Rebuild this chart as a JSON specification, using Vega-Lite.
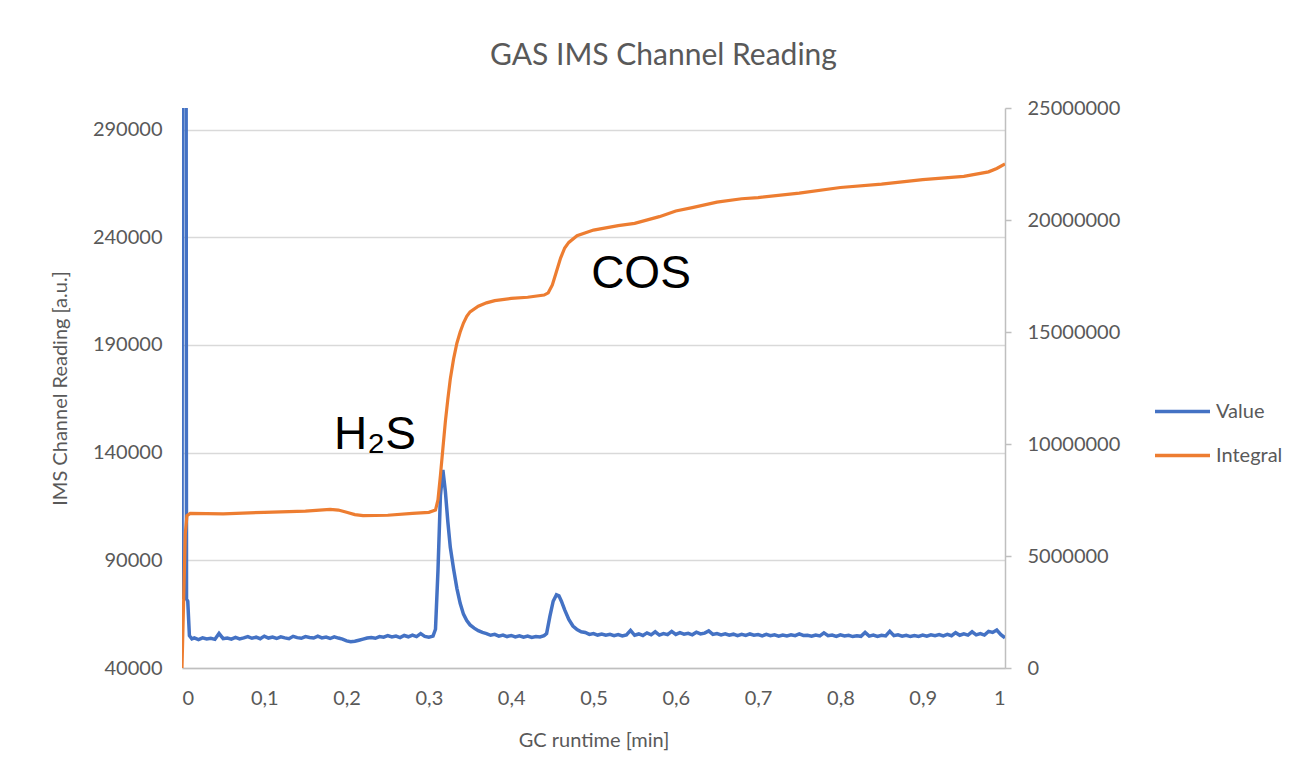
{
  "$schema": "https://vega.github.io/schema/vega-lite/v6.json",
  "autosize": "none",
  "width": 823,
  "height": 560,
  "padding": {"left": 182, "top": 108, "right": 294, "bottom": 114},
  "background": "white",
  "title": {
    "text": "GAS IMS Channel Reading",
    "font": "Lato",
    "fontSize": 30,
    "fontWeight": "normal",
    "color": "#595959",
    "anchor": "middle",
    "dx": 70,
    "offset": 27
  },
  "config": {
    "view": {"stroke": null},
    "axis": {
      "labelFont": "Lato",
      "labelFontSize": 20,
      "labelColor": "#595959",
      "titleFont": "Lato",
      "titleFontSize": 20,
      "titleFontWeight": "normal",
      "titleColor": "#595959"
    },
    "legend": {
      "labelFont": "Lato",
      "labelFontSize": 20,
      "labelColor": "#595959"
    }
  },
  "datasets": {
    "value": [
      {"t": 0.000, "v": 72000}, {"t": 0.0005, "v": 320000}, {"t": 0.005, "v": 320000}, {"t": 0.0055, "v": 72000}, {"t": 0.007, "v": 71000},
      {"t": 0.009, "v": 55000}, {"t": 0.012, "v": 53500}, {"t": 0.015, "v": 54000}, {"t": 0.02, "v": 53200},
      {"t": 0.025, "v": 54000}, {"t": 0.03, "v": 53500}, {"t": 0.035, "v": 53800}, {"t": 0.04, "v": 53300},
      {"t": 0.045, "v": 56000}, {"t": 0.05, "v": 53600}, {"t": 0.055, "v": 53900}, {"t": 0.06, "v": 53400},
      {"t": 0.065, "v": 54200}, {"t": 0.07, "v": 53500}, {"t": 0.075, "v": 54000}, {"t": 0.08, "v": 54600},
      {"t": 0.085, "v": 53800}, {"t": 0.09, "v": 54300}, {"t": 0.095, "v": 53600}, {"t": 0.10, "v": 54800},
      {"t": 0.105, "v": 53900}, {"t": 0.11, "v": 54400}, {"t": 0.115, "v": 53700}, {"t": 0.12, "v": 54500},
      {"t": 0.125, "v": 54000}, {"t": 0.13, "v": 53600}, {"t": 0.135, "v": 54700}, {"t": 0.14, "v": 54100},
      {"t": 0.145, "v": 53800}, {"t": 0.15, "v": 54600}, {"t": 0.155, "v": 54200}, {"t": 0.16, "v": 53900},
      {"t": 0.165, "v": 54800}, {"t": 0.17, "v": 54000}, {"t": 0.175, "v": 54400}, {"t": 0.18, "v": 53700},
      {"t": 0.185, "v": 54500}, {"t": 0.19, "v": 53900}, {"t": 0.195, "v": 53400}, {"t": 0.20, "v": 52600},
      {"t": 0.205, "v": 52200}, {"t": 0.21, "v": 52400}, {"t": 0.215, "v": 52900}, {"t": 0.22, "v": 53400},
      {"t": 0.225, "v": 53900}, {"t": 0.23, "v": 54200}, {"t": 0.235, "v": 53800}, {"t": 0.24, "v": 54600},
      {"t": 0.245, "v": 54300}, {"t": 0.25, "v": 55000}, {"t": 0.255, "v": 54400}, {"t": 0.26, "v": 54800},
      {"t": 0.265, "v": 54100}, {"t": 0.27, "v": 55100}, {"t": 0.275, "v": 54500}, {"t": 0.28, "v": 55300},
      {"t": 0.285, "v": 54600}, {"t": 0.29, "v": 56000}, {"t": 0.295, "v": 54700}, {"t": 0.30, "v": 54300},
      {"t": 0.305, "v": 54800}, {"t": 0.308, "v": 58000}, {"t": 0.311, "v": 85000}, {"t": 0.314, "v": 120000},
      {"t": 0.317, "v": 132000}, {"t": 0.320, "v": 122000}, {"t": 0.323, "v": 108000}, {"t": 0.326, "v": 96000},
      {"t": 0.330, "v": 86000}, {"t": 0.334, "v": 77000}, {"t": 0.338, "v": 70000}, {"t": 0.342, "v": 65000},
      {"t": 0.346, "v": 62000}, {"t": 0.350, "v": 60000}, {"t": 0.355, "v": 58500}, {"t": 0.36, "v": 57300},
      {"t": 0.365, "v": 56500}, {"t": 0.37, "v": 56000}, {"t": 0.375, "v": 55200}, {"t": 0.38, "v": 55600},
      {"t": 0.385, "v": 54800}, {"t": 0.39, "v": 55300}, {"t": 0.395, "v": 54600}, {"t": 0.40, "v": 55100},
      {"t": 0.405, "v": 54400}, {"t": 0.41, "v": 54900}, {"t": 0.415, "v": 54300}, {"t": 0.42, "v": 54800},
      {"t": 0.425, "v": 54200}, {"t": 0.43, "v": 54600}, {"t": 0.435, "v": 54400}, {"t": 0.44, "v": 55000},
      {"t": 0.443, "v": 56000}, {"t": 0.447, "v": 64000}, {"t": 0.451, "v": 71000}, {"t": 0.455, "v": 74000},
      {"t": 0.458, "v": 73500}, {"t": 0.461, "v": 71000}, {"t": 0.465, "v": 67000}, {"t": 0.47, "v": 62500},
      {"t": 0.475, "v": 59500}, {"t": 0.48, "v": 57800}, {"t": 0.485, "v": 56800}, {"t": 0.49, "v": 56500},
      {"t": 0.495, "v": 55600}, {"t": 0.50, "v": 56000}, {"t": 0.505, "v": 55300}, {"t": 0.51, "v": 55800},
      {"t": 0.515, "v": 55200}, {"t": 0.52, "v": 55600}, {"t": 0.525, "v": 55000}, {"t": 0.53, "v": 55500},
      {"t": 0.535, "v": 54900}, {"t": 0.54, "v": 55400}, {"t": 0.545, "v": 57500}, {"t": 0.55, "v": 55200},
      {"t": 0.555, "v": 55800}, {"t": 0.56, "v": 55100}, {"t": 0.565, "v": 56300}, {"t": 0.57, "v": 55400},
      {"t": 0.575, "v": 56800}, {"t": 0.58, "v": 55300}, {"t": 0.585, "v": 56000}, {"t": 0.59, "v": 55500},
      {"t": 0.595, "v": 57000}, {"t": 0.60, "v": 55600}, {"t": 0.605, "v": 56400}, {"t": 0.61, "v": 55700},
      {"t": 0.615, "v": 56100}, {"t": 0.62, "v": 55400}, {"t": 0.625, "v": 56600}, {"t": 0.63, "v": 55800},
      {"t": 0.635, "v": 56200}, {"t": 0.64, "v": 57200}, {"t": 0.645, "v": 55600}, {"t": 0.65, "v": 56000},
      {"t": 0.655, "v": 55400}, {"t": 0.66, "v": 55900}, {"t": 0.665, "v": 55200}, {"t": 0.67, "v": 55700},
      {"t": 0.675, "v": 55000}, {"t": 0.68, "v": 55600}, {"t": 0.685, "v": 55100}, {"t": 0.69, "v": 55800},
      {"t": 0.695, "v": 55200}, {"t": 0.70, "v": 55500}, {"t": 0.705, "v": 54900}, {"t": 0.71, "v": 55600},
      {"t": 0.715, "v": 55000}, {"t": 0.72, "v": 55400}, {"t": 0.725, "v": 54800}, {"t": 0.73, "v": 55300},
      {"t": 0.735, "v": 54900}, {"t": 0.74, "v": 55400}, {"t": 0.745, "v": 55000}, {"t": 0.75, "v": 55800},
      {"t": 0.755, "v": 55100}, {"t": 0.76, "v": 55200}, {"t": 0.765, "v": 54800}, {"t": 0.77, "v": 55300},
      {"t": 0.775, "v": 54900}, {"t": 0.78, "v": 56300}, {"t": 0.785, "v": 55000}, {"t": 0.79, "v": 55300},
      {"t": 0.795, "v": 54700}, {"t": 0.80, "v": 55400}, {"t": 0.805, "v": 54900}, {"t": 0.81, "v": 55200},
      {"t": 0.815, "v": 54600}, {"t": 0.82, "v": 55000}, {"t": 0.825, "v": 54700}, {"t": 0.83, "v": 56500},
      {"t": 0.835, "v": 54800}, {"t": 0.84, "v": 55300}, {"t": 0.845, "v": 54700}, {"t": 0.85, "v": 55200},
      {"t": 0.855, "v": 54900}, {"t": 0.86, "v": 57000}, {"t": 0.865, "v": 55000}, {"t": 0.87, "v": 55400},
      {"t": 0.875, "v": 54800}, {"t": 0.88, "v": 55200}, {"t": 0.885, "v": 54600}, {"t": 0.89, "v": 55100},
      {"t": 0.895, "v": 54700}, {"t": 0.90, "v": 55300}, {"t": 0.905, "v": 54800}, {"t": 0.91, "v": 55400},
      {"t": 0.915, "v": 55000}, {"t": 0.92, "v": 55500}, {"t": 0.925, "v": 54900}, {"t": 0.93, "v": 55600},
      {"t": 0.935, "v": 55000}, {"t": 0.94, "v": 56400}, {"t": 0.945, "v": 55200}, {"t": 0.95, "v": 55900},
      {"t": 0.955, "v": 55300}, {"t": 0.96, "v": 56800}, {"t": 0.965, "v": 55400}, {"t": 0.97, "v": 56000},
      {"t": 0.975, "v": 55300}, {"t": 0.98, "v": 57000}, {"t": 0.985, "v": 56500}, {"t": 0.99, "v": 57600},
      {"t": 0.995, "v": 55500}, {"t": 1.00, "v": 54000}
    ],
    "integral": [
      {"t": 0.000, "v": 0}, {"t": 0.002, "v": 3000000}, {"t": 0.004, "v": 6000000}, {"t": 0.006, "v": 6800000},
      {"t": 0.01, "v": 6900000}, {"t": 0.05, "v": 6880000}, {"t": 0.1, "v": 6950000}, {"t": 0.15, "v": 7000000},
      {"t": 0.18, "v": 7080000}, {"t": 0.19, "v": 7050000}, {"t": 0.2, "v": 6950000}, {"t": 0.21, "v": 6850000},
      {"t": 0.22, "v": 6800000}, {"t": 0.25, "v": 6820000}, {"t": 0.28, "v": 6900000}, {"t": 0.3, "v": 6950000},
      {"t": 0.308, "v": 7050000}, {"t": 0.311, "v": 7500000}, {"t": 0.314, "v": 8600000}, {"t": 0.317, "v": 9800000},
      {"t": 0.32, "v": 11000000}, {"t": 0.323, "v": 12000000}, {"t": 0.326, "v": 12900000}, {"t": 0.33, "v": 13800000},
      {"t": 0.334, "v": 14500000}, {"t": 0.338, "v": 15000000}, {"t": 0.342, "v": 15400000}, {"t": 0.346, "v": 15700000},
      {"t": 0.35, "v": 15900000}, {"t": 0.36, "v": 16150000}, {"t": 0.37, "v": 16300000}, {"t": 0.38, "v": 16400000},
      {"t": 0.4, "v": 16500000}, {"t": 0.42, "v": 16550000}, {"t": 0.44, "v": 16650000}, {"t": 0.445, "v": 16750000},
      {"t": 0.45, "v": 17100000}, {"t": 0.455, "v": 17700000}, {"t": 0.46, "v": 18300000}, {"t": 0.465, "v": 18750000},
      {"t": 0.47, "v": 19000000}, {"t": 0.48, "v": 19300000}, {"t": 0.5, "v": 19550000}, {"t": 0.53, "v": 19750000},
      {"t": 0.55, "v": 19850000}, {"t": 0.58, "v": 20150000}, {"t": 0.6, "v": 20400000}, {"t": 0.62, "v": 20550000},
      {"t": 0.65, "v": 20800000}, {"t": 0.68, "v": 20950000}, {"t": 0.7, "v": 21000000}, {"t": 0.75, "v": 21200000},
      {"t": 0.8, "v": 21450000}, {"t": 0.85, "v": 21600000}, {"t": 0.9, "v": 21800000}, {"t": 0.95, "v": 21950000},
      {"t": 0.98, "v": 22150000}, {"t": 0.99, "v": 22300000}, {"t": 1.0, "v": 22500000}
    ],
    "labels": [
      {"t": 0.2345, "v": 141500, "label": "H₂S"},
      {"t": 0.5577, "v": 216400, "label": "COS"}
    ]
  },
  "encoding": {
    "x": {
      "field": "t",
      "type": "quantitative",
      "scale": {"domain": [0, 1], "nice": false},
      "axis": {
        "title": "GC runtime [min]",
        "values": [0, 0.1, 0.2, 0.3, 0.4, 0.5, 0.6, 0.7, 0.8, 0.9, 1],
        "labelExpr": "replace(format(datum.value, '.1~f'), '.', ',')",
        "grid": false,
        "ticks": false,
        "domainColor": "#bfbfbf",
        "domainWidth": 1.5,
        "labelPadding": 20,
        "titlePadding": 22
      }
    }
  },
  "layer": [
    {
      "encoding": {
        "y": {
          "field": "v",
          "type": "quantitative",
          "scale": {"domain": [40000, 300000], "nice": false, "zero": false},
          "axis": {
            "title": "IMS Channel Reading [a.u.]",
            "values": [40000, 90000, 140000, 190000, 240000, 290000],
            "format": "d",
            "grid": true,
            "gridColor": "#d9d9d9",
            "gridWidth": 1.5,
            "domain": false,
            "ticks": false,
            "labelPadding": 20,
            "titlePadding": 22
          }
        }
      },
      "layer": [
        {
          "data": {"name": "value"},
          "mark": {"type": "line", "strokeWidth": 3.5, "clip": true},
          "encoding": {
            "color": {
              "datum": "Value",
              "type": "nominal",
              "scale": {"domain": ["Value", "Integral"], "range": ["#4472C4", "#ED7D31"]},
              "legend": {
                "title": null,
                "orient": "none",
                "legendX": 971,
                "legendY": 274,
                "symbolType": "stroke",
                "symbolSize": 3025,
                "symbolStrokeWidth": 3.5,
                "labelOffset": 4,
                "rowPadding": 4
              }
            }
          }
        },
        {
          "data": {"name": "labels"},
          "mark": {
            "type": "text",
            "font": "Liberation Sans",
            "fontSize": 46,
            "color": "black",
            "align": "center",
            "baseline": "alphabetic"
          },
          "encoding": {
            "text": {"field": "label", "type": "nominal"}
          }
        }
      ]
    },
    {
      "data": {"name": "integral"},
      "mark": {"type": "line", "strokeWidth": 3.2, "clip": true},
      "encoding": {
        "y": {
          "field": "v",
          "type": "quantitative",
          "scale": {"domain": [0, 25000000], "nice": false},
          "axis": {
            "orient": "right",
            "title": null,
            "values": [0, 5000000, 10000000, 15000000, 20000000, 25000000],
            "format": "d",
            "grid": false,
            "domainColor": "#bfbfbf",
            "domainWidth": 1.5,
            "tickColor": "#bfbfbf",
            "tickWidth": 1.5,
            "tickSize": 6,
            "labelPadding": 16
          }
        },
        "color": {"datum": "Integral", "type": "nominal"}
      }
    }
  ],
  "resolve": {"scale": {"y": "independent"}, "axis": {"y": "independent"}}
}
